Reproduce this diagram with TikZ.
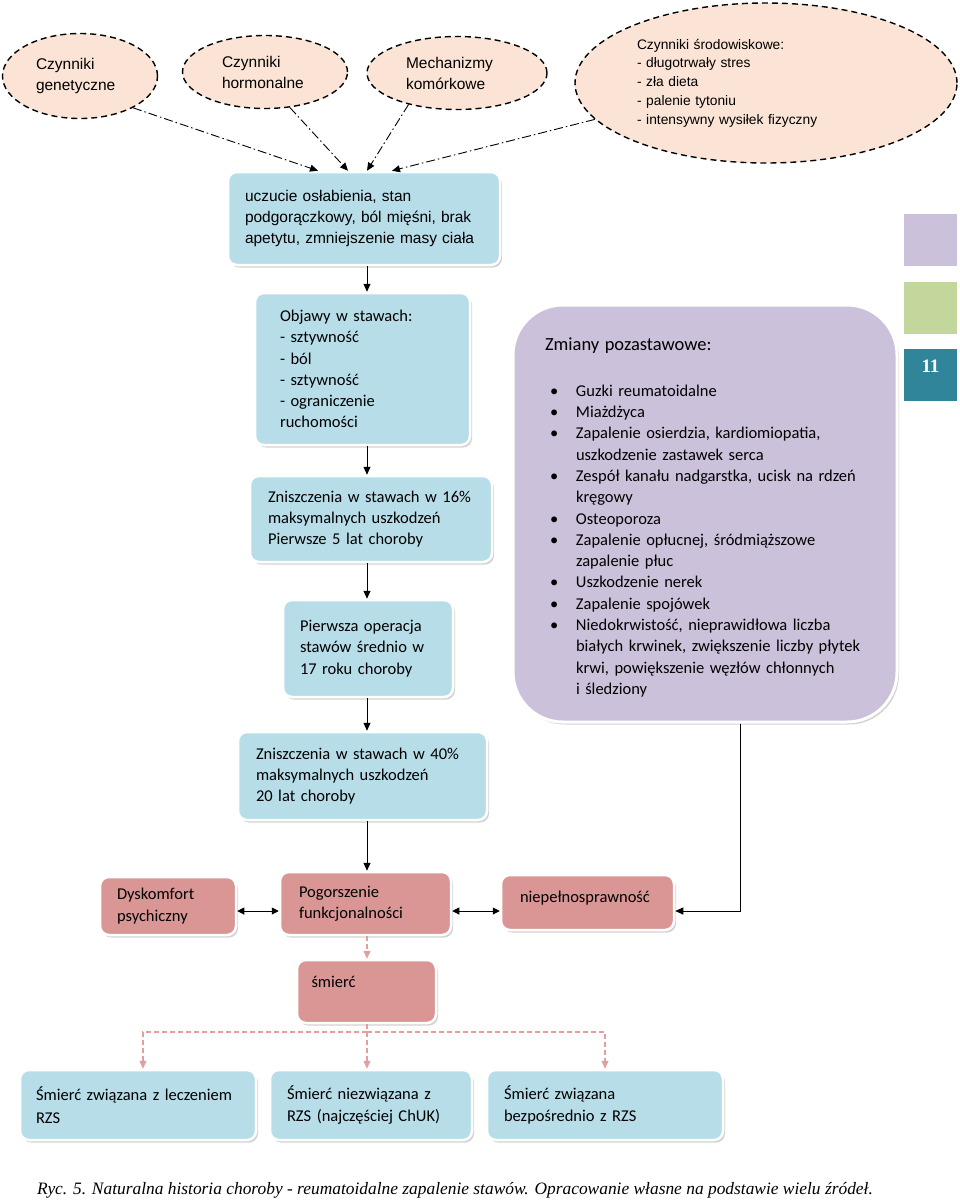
\documentclass[tikz,border=0pt]{standalone}
\usepackage{fontspec}
\setmainfont{Carlito}
\newfontfamily\arial{Liberation Sans}
\newfontfamily\szeryf{Liberation Serif}
\usetikzlibrary{arrows.meta,shapes.geometric,shadows}
\definecolor{brzoskwinia}{RGB}{251,228,213}
\definecolor{niebieski}{RGB}{183,221,232}
\definecolor{fiolet}{RGB}{204,193,218}
\definecolor{roz}{RGB}{217,150,148}
\definecolor{rozstrz}{RGB}{228,158,158}
\definecolor{zielony}{RGB}{195,214,155}
\definecolor{morski}{RGB}{49,133,155}
\newcommand{\pkt}[1]{\par\noindent\hangindent=31pt\hangafter=1\makebox[31pt][l]{\hspace{5pt}\textbullet}#1}
\begin{document}
\begin{tikzpicture}[x=1pt,y=-1pt,
    czynnik/.style={ellipse, draw, dash pattern=on 6pt off 4pt, line width=1.4pt,
      fill=brzoskwinia, inner sep=0pt, align=left, font=\arial\fontsize{15.5}{21}\selectfont},
    pole/.style={rounded corners=9pt, draw=white, line width=2.5pt, inner sep=0pt, align=left,
      drop shadow={shadow xshift=2pt,shadow yshift=-2.5pt,fill=black!35},
      font=\fontsize{16.5}{21.3}\selectfont},
    zakladka/.style={minimum width=53pt, minimum height=52pt, inner sep=0pt},
    strz/.style={-{Triangle[length=8pt,width=7pt]}, line width=0.9pt},
    oba/.style={{Triangle[length=7pt,width=7pt]}-{Triangle[length=7pt,width=7pt]}, line width=1pt},
    kreska/.style={strz, dash pattern=on 9pt off 3pt on 1.5pt off 3pt},
    rozowa/.style={-{Triangle[length=8pt,width=7pt]}, draw=rozstrz,
      line width=1.2pt, dash pattern=on 5pt off 3pt}]
  \useasboundingbox (0,0) rectangle (960,1202);

  % czynniki
  \node[czynnik, minimum width=155pt, minimum height=85pt, text width=88pt] (gen) at (80,76)
    {Czynniki\\genetyczne};
  \node[czynnik, minimum width=165pt, minimum height=73pt, text width=86pt] (horm) at (265,72)
    {Czynniki\\hormonalne};
  \node[czynnik, minimum width=180pt, minimum height=73pt, text width=102pt] (mech) at (457,73)
    {Mechanizmy\\komórkowe};
  \node[czynnik, minimum width=382pt, minimum height=160pt, text width=258pt,
    font=\arial\fontsize{13.8}{18.7}\selectfont] (srod) at (766,83)
    {Czynniki środowiskowe:\\- długotrwały stres\\- zła dieta\\- palenie tytoniu\\- intensywny wysiłek fizyczny};

  % przebieg
  \node[pole, fill=niebieski, minimum width=272pt, minimum height=93pt, text width=238pt,
    font=\arial\fontsize{15.5}{21}\selectfont] (objaw1) at (364,218.5)
    {uczucie osłabienia, stan\\podgorączkowy, ból mięśni, brak\\apetytu, zmniejszenie masy ciała};
  \node[pole, fill=niebieski, minimum width=215pt, minimum height=152pt, text width=165pt] (objaw2) at (362.5,369)
    {Objawy w stawach:\\- sztywność\\- ból\\- sztywność\\- ograniczenie\\ruchomości};
  \node[pole, fill=niebieski, minimum width=242pt, minimum height=86pt, text width=206pt] (zn16) at (371,519)
    {Zniszczenia w stawach w 16\%\\maksymalnych uszkodzeń\\Pierwsze 5 lat choroby};
  \node[pole, fill=niebieski, minimum width=170pt, minimum height=97pt, text width=136pt] (oper) at (368,648.5)
    {Pierwsza operacja\\stawów średnio w\\17 roku choroby};
  \node[pole, fill=niebieski, minimum width=249pt, minimum height=88pt, text width=213pt] (zn40) at (362.5,776)
    {Zniszczenia w stawach w 40\%\\maksymalnych uszkodzeń\\20 lat choroby};

  \node[pole, fill=fiolet, rounded corners=50pt, line width=3pt, minimum width=384pt, minimum height=417pt,
    text width=320pt] (pozastaw) at (705,513.5)
    {{\fontsize{18.5}{22}\selectfont\rule{0pt}{21pt}Zmiany pozastawowe:}\par\vspace{24pt}
     \pkt{Guzki reumatoidalne}
     \pkt{Miażdżyca}
     \pkt{Zapalenie osierdzia, kardiomiopatia,\newline uszkodzenie zastawek serca}
     \pkt{Zespół kanału nadgarstka, ucisk na rdzeń\newline kręgowy}
     \pkt{Osteoporoza}
     \pkt{Zapalenie opłucnej, śródmiąższowe\newline zapalenie płuc}
     \pkt{Uszkodzenie nerek}
     \pkt{Zapalenie spojówek}
     \pkt{Niedokrwistość, nieprawidłowa liczba\newline białych krwinek, zwiększenie liczby płytek\newline
       krwi, powiększenie węzłów chłonnych\newline i śledziony}\par};

  % skutki
  \node[pole, fill=roz, minimum width=136pt, minimum height=58pt, text width=102pt] (dysk) at (168,906)
    {Dyskomfort\\psychiczny};
  \node[pole, fill=roz, minimum width=171pt, minimum height=63pt, text width=133pt] (pogorsz) at (365.5,903.5)
    {Pogorszenie\\funkcjonalności};
  \node[pole, fill=roz, minimum width=173pt, minimum height=55pt, text width=135pt, text depth=12pt] (niep) at (587.5,902.5)
    {niepełnosprawność};
  \node[pole, fill=roz, minimum width=139pt, minimum height=63pt, text width=110pt, text depth=20pt] (smierc) at (366.5,991.5)
    {śmierć};

  \node[pole, fill=niebieski, minimum width=236pt, minimum height=70pt, text width=204pt,
    font=\fontsize{16.5}{23}\selectfont] (dol1) at (138,1105)
    {Śmierć związana z leczeniem\\RZS};
  \node[pole, fill=niebieski, minimum width=202pt, minimum height=70pt, text width=168pt] (dol2) at (371,1105)
    {Śmierć niezwiązana z\\RZS (najczęściej ChUK)};
  \node[pole, fill=niebieski, minimum width=236pt, minimum height=70pt, text width=202pt] (dol3) at (605,1105)
    {Śmierć związana\\bezpośrednio z RZS};

  % zakladki
  \node[zakladka, fill=fiolet] (tab1) at (930.5,240) {};
  \node[zakladka, fill=zielony] (tab2) at (930.5,308) {};
  \node[zakladka, fill=morski] (tab3) at (930.5,375) {};
  \node[anchor=north, inner sep=0pt, yshift=-11pt, text=white,
    font=\szeryf\bfseries\fontsize{19}{19}\selectfont] (nr) at (tab3.north) {11};

  \node[anchor=west, inner sep=0pt, font=\szeryf\itshape\fontsize{17.4}{18}\selectfont] (podpis) at (37,1190)
    {Ryc. 5. Naturalna historia choroby - reumatoidalne zapalenie stawów. Opracowanie własne na podstawie wielu źródeł.};

  % strzalki
  \draw[kreska] (gen.-31) -- ([xshift=-46pt]objaw1.north);
  \draw[kreska] (horm.-55) -- ([xshift=-16pt]objaw1.north);
  \draw[kreska] (mech.-147) -- ([xshift=3pt]objaw1.north);
  \draw[kreska] (srod.-168) -- ([xshift=28pt]objaw1.north);

  \coordinate (os) at (367,0);
  \draw[strz] (objaw1.south -| os) -- (objaw2.north -| os);
  \draw[strz] (objaw2.south -| os) -- (zn16.north -| os);
  \draw[strz] (zn16.south -| os) -- (oper.north -| os);
  \draw[strz] (oper.south -| os) -- (zn40.north -| os);
  \draw[strz] (zn40.south -| os) -- (pogorsz.north -| os);

  \coordinate (poziom) at (0,911);
  \draw[oba] (dysk.east |- poziom) -- (pogorsz.west |- poziom);
  \draw[oba] (pogorsz.east |- poziom) -- (niep.west |- poziom);
  \draw[strz] ([xshift=35pt]pozastaw.south) |- (niep.east |- poziom);

  \draw[rozowa] (pogorsz.south -| os) -- (smierc.north -| os);
  \draw[rozowa] (smierc.south -| os) -- (dol2.north -| os);
  \coordinate (rozg) at (367,1032);
  \draw[rozowa] (rozg) -| ([xshift=5pt]dol1.north);
  \draw[rozowa] (rozg) -| (dol3.north);
\end{tikzpicture}
\end{document}
